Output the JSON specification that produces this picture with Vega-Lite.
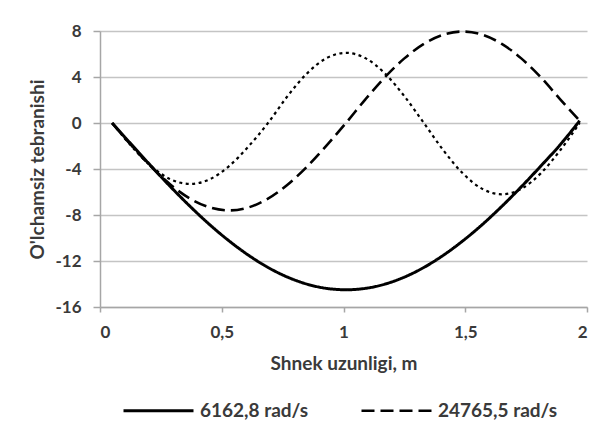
{
  "$schema": "https://vega.github.io/schema/vega-lite/v6.json",
  "width": 487,
  "height": 276,
  "autosize": {"type": "none"},
  "padding": {"left": 100, "top": 31, "right": 15, "bottom": 114},
  "background": "white",
  "config": {
    "view": {"stroke": null},
    "font": "Lato",
    "axis": {"labelFont": "Lato", "titleFont": "Lato", "labelFontWeight": "bold", "titleFontWeight": "bold", "labelColor": "#3a3a3a", "titleColor": "#3a3a3a", "labelFontSize": 17, "titleFontSize": 19, "domainColor": "#a6a6a6", "tickColor": "#a6a6a6", "gridColor": "#c4c4c4", "domainWidth": 1.5, "tickWidth": 1.5, "gridWidth": 1.5},
    "legend": {"labelFont": "Lato", "labelFontWeight": "bold", "labelFontSize": 19, "labelColor": "#3a3a3a"}
  },
  "data": {
    "values": [
      {"s": "uchinchi", "x": 0.05, "y": 0},
      {"s": "uchinchi", "x": 0.13, "y": -2.03},
      {"s": "uchinchi", "x": 0.21, "y": -3.75},
      {"s": "uchinchi", "x": 0.29, "y": -4.9},
      {"s": "uchinchi", "x": 0.37, "y": -5.3},
      {"s": "uchinchi", "x": 0.45, "y": -4.9},
      {"s": "uchinchi", "x": 0.53, "y": -3.75},
      {"s": "uchinchi", "x": 0.61, "y": -2.03},
      {"s": "uchinchi", "x": 0.69, "y": 0},
      {"s": "uchinchi", "x": 0.77, "y": 2.33},
      {"s": "uchinchi", "x": 0.85, "y": 4.31},
      {"s": "uchinchi", "x": 0.93, "y": 5.64},
      {"s": "uchinchi", "x": 1.01, "y": 6.1},
      {"s": "uchinchi", "x": 1.09, "y": 5.64},
      {"s": "uchinchi", "x": 1.17, "y": 4.31},
      {"s": "uchinchi", "x": 1.25, "y": 2.33},
      {"s": "uchinchi", "x": 1.33, "y": 0},
      {"s": "uchinchi", "x": 1.41, "y": -2.37},
      {"s": "uchinchi", "x": 1.49, "y": -4.38},
      {"s": "uchinchi", "x": 1.57, "y": -5.73},
      {"s": "uchinchi", "x": 1.65, "y": -6.2},
      {"s": "uchinchi", "x": 1.73, "y": -5.73},
      {"s": "uchinchi", "x": 1.81, "y": -4.38},
      {"s": "uchinchi", "x": 1.89, "y": -2.37},
      {"s": "uchinchi", "x": 1.97, "y": 0},
      {"s": "24765,5 rad/s", "x": 0.05, "y": 0},
      {"s": "24765,5 rad/s", "x": 0.13, "y": -1.97},
      {"s": "24765,5 rad/s", "x": 0.21, "y": -3.8},
      {"s": "24765,5 rad/s", "x": 0.29, "y": -5.37},
      {"s": "24765,5 rad/s", "x": 0.37, "y": -6.58},
      {"s": "24765,5 rad/s", "x": 0.45, "y": -7.34},
      {"s": "24765,5 rad/s", "x": 0.53, "y": -7.6},
      {"s": "24765,5 rad/s", "x": 0.61, "y": -7.34},
      {"s": "24765,5 rad/s", "x": 0.69, "y": -6.58},
      {"s": "24765,5 rad/s", "x": 0.77, "y": -5.37},
      {"s": "24765,5 rad/s", "x": 0.85, "y": -3.8},
      {"s": "24765,5 rad/s", "x": 0.93, "y": -1.97},
      {"s": "24765,5 rad/s", "x": 1.01, "y": 0},
      {"s": "24765,5 rad/s", "x": 1.09, "y": 2.06},
      {"s": "24765,5 rad/s", "x": 1.17, "y": 3.98},
      {"s": "24765,5 rad/s", "x": 1.25, "y": 5.62},
      {"s": "24765,5 rad/s", "x": 1.33, "y": 6.88},
      {"s": "24765,5 rad/s", "x": 1.41, "y": 7.68},
      {"s": "24765,5 rad/s", "x": 1.49, "y": 7.95},
      {"s": "24765,5 rad/s", "x": 1.57, "y": 7.68},
      {"s": "24765,5 rad/s", "x": 1.65, "y": 6.88},
      {"s": "24765,5 rad/s", "x": 1.73, "y": 5.62},
      {"s": "24765,5 rad/s", "x": 1.81, "y": 3.98},
      {"s": "24765,5 rad/s", "x": 1.89, "y": 2.06},
      {"s": "24765,5 rad/s", "x": 1.97, "y": 0.2},
      {"s": "6162,8 rad/s", "x": 0.05, "y": 0},
      {"s": "6162,8 rad/s", "x": 0.13, "y": -1.89},
      {"s": "6162,8 rad/s", "x": 0.21, "y": -3.75},
      {"s": "6162,8 rad/s", "x": 0.29, "y": -5.55},
      {"s": "6162,8 rad/s", "x": 0.37, "y": -7.25},
      {"s": "6162,8 rad/s", "x": 0.45, "y": -8.83},
      {"s": "6162,8 rad/s", "x": 0.53, "y": -10.25},
      {"s": "6162,8 rad/s", "x": 0.61, "y": -11.5},
      {"s": "6162,8 rad/s", "x": 0.69, "y": -12.56},
      {"s": "6162,8 rad/s", "x": 0.77, "y": -13.4},
      {"s": "6162,8 rad/s", "x": 0.85, "y": -14.01},
      {"s": "6162,8 rad/s", "x": 0.93, "y": -14.38},
      {"s": "6162,8 rad/s", "x": 1.01, "y": -14.5},
      {"s": "6162,8 rad/s", "x": 1.09, "y": -14.38},
      {"s": "6162,8 rad/s", "x": 1.17, "y": -14.01},
      {"s": "6162,8 rad/s", "x": 1.25, "y": -13.4},
      {"s": "6162,8 rad/s", "x": 1.33, "y": -12.56},
      {"s": "6162,8 rad/s", "x": 1.41, "y": -11.5},
      {"s": "6162,8 rad/s", "x": 1.49, "y": -10.25},
      {"s": "6162,8 rad/s", "x": 1.57, "y": -8.83},
      {"s": "6162,8 rad/s", "x": 1.65, "y": -7.25},
      {"s": "6162,8 rad/s", "x": 1.73, "y": -5.55},
      {"s": "6162,8 rad/s", "x": 1.81, "y": -3.75},
      {"s": "6162,8 rad/s", "x": 1.89, "y": -1.89},
      {"s": "6162,8 rad/s", "x": 1.97, "y": 0.2}
    ]
  },
  "mark": {"type": "line", "interpolate": "monotone", "color": "#000000", "strokeCap": "butt"},
  "encoding": {
    "x": {
      "field": "x", "type": "quantitative",
      "scale": {"domain": [0, 2], "nice": false},
      "axis": {"values": [0, 0.5, 1, 1.5, 2], "grid": false, "tickSize": 5, "labelPadding": 12, "labelExpr": "replace(toString(datum.value), '.', ',')", "title": "Shnek uzunligi, m", "titlePadding": 14}
    },
    "y": {
      "field": "y", "type": "quantitative",
      "scale": {"domain": [-16, 8], "nice": false},
      "axis": {"values": [-16, -12, -8, -4, 0, 4, 8], "grid": true, "tickSize": 7, "labelPadding": 12, "labelExpr": "toString(datum.value)", "title": "O'lchamsiz tebranishi", "titlePadding": 7}
    },
    "strokeDash": {
      "field": "s", "type": "nominal",
      "scale": {"domain": ["6162,8 rad/s", "24765,5 rad/s", "uchinchi"], "range": [[1, 0], [13, 6], [3, 3.5]]},
      "legend": {"values": ["6162,8 rad/s", "24765,5 rad/s"], "title": null, "orient": "none", "legendX": 22, "legendY": 343, "direction": "horizontal", "symbolType": "stroke", "symbolSize": 4900, "symbolStrokeColor": "#000000", "columnPadding": 48, "labelOffset": 5}
    },
    "strokeWidth": {
      "field": "s", "type": "nominal",
      "scale": {"domain": ["6162,8 rad/s", "24765,5 rad/s", "uchinchi"], "range": [3, 2.2, 2.8]},
      "legend": {"values": ["6162,8 rad/s", "24765,5 rad/s"], "title": null, "orient": "none", "legendX": 22, "legendY": 343, "direction": "horizontal", "symbolType": "stroke", "symbolSize": 4900, "symbolStrokeColor": "#000000", "columnPadding": 48, "labelOffset": 5}
    },
    "order": {"field": "x", "type": "quantitative"}
  }
}
